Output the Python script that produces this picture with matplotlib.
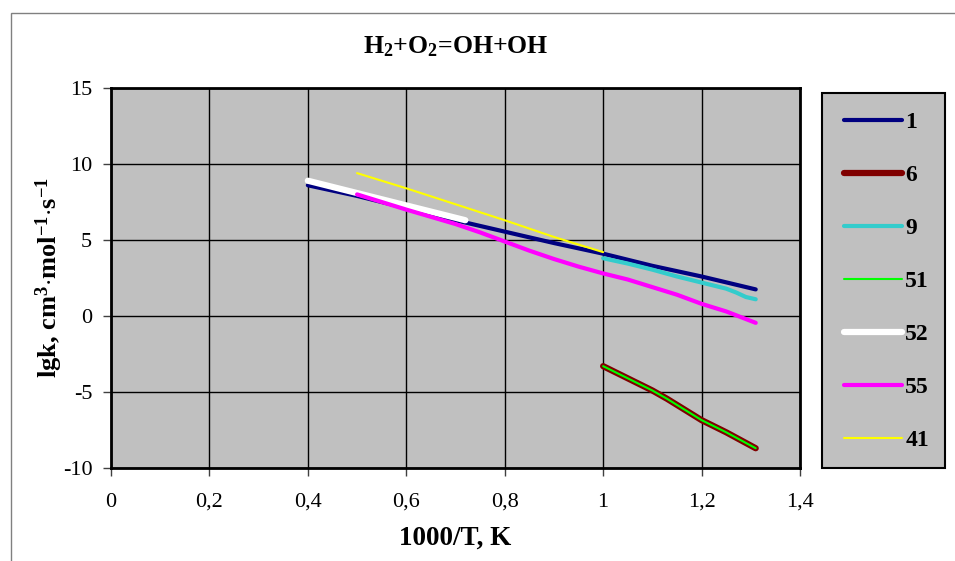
import matplotlib
matplotlib.use("Agg")
import matplotlib.pyplot as plt
from matplotlib.patches import Rectangle

plt.rcParams['font.family'] = ['Liberation Serif', 'DejaVu Serif']
plt.rcParams['mathtext.fontset'] = 'custom'
plt.rcParams['mathtext.rm'] = 'Liberation Serif'
plt.rcParams['mathtext.bf'] = 'Liberation Serif:bold'
plt.rcParams['mathtext.it'] = 'Liberation Serif:italic'
plt.rcParams['axes.unicode_minus'] = False

# ---- data ----
x1 = [0.4, 0.5, 0.6, 0.7, 0.8, 0.9, 1.0, 1.1, 1.2, 1.31]
y1 = [8.6, 7.9, 7.1, 6.3, 5.55, 4.8, 4.1, 3.3, 2.6, 1.75]

x6 = [1.0, 1.05, 1.1, 1.13, 1.2, 1.25, 1.31]
y6 = [-3.3, -4.1, -4.9, -5.45, -6.85, -7.65, -8.7]

x9 = [1.0, 1.05, 1.1, 1.15, 1.2, 1.25, 1.27, 1.29, 1.31]
y9 = [3.8, 3.45, 3.05, 2.6, 2.2, 1.8, 1.55, 1.25, 1.1]

x51 = x6
y51 = y6

x52 = [0.4, 0.72]
y52 = [8.9, 6.3]

x55 = [0.5, 0.6, 0.7, 0.75, 0.8, 0.85, 0.9, 0.95, 1.0, 1.05, 1.1, 1.15, 1.2, 1.25, 1.31]
y55 = [8.0, 7.0, 6.05, 5.5, 4.9, 4.3, 3.75, 3.25, 2.8, 2.4, 1.9, 1.4, 0.8, 0.3, -0.45]

x41 = [0.5, 0.6, 0.7, 0.8, 0.9, 1.0]
y41 = [9.4, 8.4, 7.35, 6.3, 5.2, 4.2]

labels = ['1', '6', '9', '51', '52', '55', '41']
colors = ['#000080', '#800000', '#33CCCC', '#00FF00', '#FFFFFF', '#FF00FF', '#FFFF00']
widths = [3.0, 4.5, 3.0, 1.5, 4.5, 3.0, 1.5]

xticks = [0, 0.2, 0.4, 0.6, 0.8, 1, 1.2, 1.4]
xticklabels = ['0', '0,2', '0,4', '0,6', '0,8', '1', '1,2', '1,4']
yticks = [-10, -5, 0, 5, 10, 15]

series = [(x1, y1), (x6, y6), (x9, y9), (x51, y51), (x52, y52), (x55, y55), (x41, y41)]

fig = plt.figure(figsize=(9.55, 5.61), dpi=100)
fig.patch.set_facecolor('white')

# outer chart-area border
fig.patches.append(Rectangle((11 / 955, -0.1), 1.2, 1 - 13 / 561 + 0.1, transform=fig.transFigure,
                             fill=False, edgecolor='#808080', linewidth=1.0))

ax = fig.add_axes([111 / 955, 1 - 468 / 561, (800 - 111) / 955, (468 - 88) / 561])
ax.set_facecolor('#C0C0C0')
ax.set_xlim(0, 1.4)
ax.set_ylim(-10, 15)
ax.set_xticks(xticks)
ax.set_xticklabels(xticklabels)
ax.set_yticks(yticks)
ax.grid(True, color='black', linewidth=1.0)
ax.set_axisbelow(True)
for s in ax.spines.values():
    s.set_linewidth(2.0)
    s.set_color('black')
ax.tick_params(axis='both', direction='out', length=5.5, width=1.0, color='#404040',
               labelsize=16)
ax.tick_params(axis='x', pad=12.5)
ax.tick_params(axis='y', pad=8)

handles = []
for (xs, ys), lab, c, w in zip(series, labels, colors, widths):
    ln, = ax.plot(xs, ys, color=c, linewidth=w, solid_capstyle='round', solid_joinstyle='round', label=lab)
    handles.append(ln)

ax.set_xlabel('1000/T, K', fontsize=19.5, fontweight='bold', labelpad=10)
ax.set_ylabel(r'lgk, cm$^\mathbf{3}$$\mathbf{\cdot}$mol$^\mathbf{-1}$$\mathbf{\cdot}$s$^\mathbf{-1}$',
              fontsize=19, fontweight='bold', labelpad=-2)

fig.text(456 / 955, 1 - 47 / 561, r'H$_\mathbf{2}$+O$_\mathbf{2}$=OH+OH', ha='center', va='center',
         fontsize=18.5, fontweight='bold')

# legend box
fig.patches.append(Rectangle((822 / 955, 1 - 468 / 561), 123 / 955, 375 / 561, transform=fig.transFigure,
                             facecolor='#C0C0C0', edgecolor='black', linewidth=1.5))
leg = fig.legend(handles=handles, labels=labels, loc='upper left',
                 bbox_to_anchor=(825 / 955, 1 - 93 / 561), frameon=False,
                 prop={'weight': 'bold', 'size': 17}, handlelength=2.45, handletextpad=0.15,
                 labelspacing=1.33, borderpad=0.3)

fig.savefig('out.png', dpi=100)
